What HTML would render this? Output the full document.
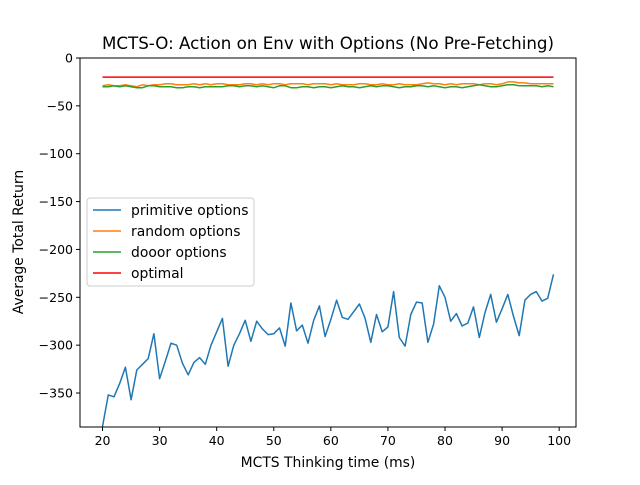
<!DOCTYPE html>
<html><head><meta charset="utf-8"><style>
body{margin:0;background:#fff;}
svg{font-family:"DejaVu Sans","Liberation Sans",sans-serif;}
</style></head><body>
<svg id="chart" width="640" height="480" xmlns="http://www.w3.org/2000/svg"></svg>
<script>
const xStart = 20;
const primitive = [-385,-352,-354,-340,-323,-357,-326,-320,-314,-288,-335,-317,-298,-300,-319,-331,-318,-313,-320,-300,-286,-272,-322,-300,-288,-274,-296,-275,-283,-289,-288,-282,-301,-256,-285,-279,-298,-274,-259,-291,-273,-253,-271,-273,-265,-257,-272,-297,-268,-286,-281,-244,-292,-301,-268,-255,-256,-297,-278,-238,-250,-275,-267,-280,-277,-260,-292,-266,-247,-276,-262,-247,-270,-290,-253,-247,-244,-254,-251,-226];
const randomOpt = [-29,-28,-29,-29,-28,-29,-30,-28,-29,-28,-28,-27,-27,-28,-28,-28,-27,-28,-27,-28,-27,-27,-28,-28,-28,-27,-27,-28,-27,-28,-27,-27,-28,-27,-27,-27,-28,-27,-27,-27,-28,-27,-28,-28,-28,-27,-27,-28,-28,-27,-28,-28,-27,-28,-28,-28,-27,-26,-27,-27,-28,-27,-28,-27,-27,-27,-28,-27,-27,-28,-27,-25,-25,-26,-26,-27,-27,-27,-27,-27];
const dooor = [-30,-30,-29,-30,-29,-30,-31,-31,-29,-29,-30,-30,-30,-31,-31,-30,-30,-31,-30,-30,-30,-30,-29,-29,-30,-29,-29,-30,-29,-30,-31,-29,-29,-31,-31,-30,-30,-31,-30,-30,-31,-30,-29,-30,-30,-31,-30,-29,-30,-29,-29,-30,-31,-30,-30,-29,-29,-30,-29,-30,-31,-30,-30,-31,-30,-29,-28,-29,-30,-30,-29,-28,-28,-29,-29,-29,-29,-30,-29,-30];
const optimal = [-20,-20];
const xTicks = [20,30,40,50,60,70,80,90,100];
const yTicks = [0,-50,-100,-150,-200,-250,-300,-350];
const svg = document.getElementById('chart');
const NS='http://www.w3.org/2000/svg';
const L=80,R=576,T=58,B=427, xmin=16.05,xmax=102.95, ymin=-385.5,ymax=0;
const xs=v=>L+(v-xmin)/(xmax-xmin)*(R-L);
const ys=v=>T+(ymax-v)/(ymax-ymin)*(B-T);
function mk(tag,attrs,txt){const e=document.createElementNS(NS,tag);for(const k in attrs)e.setAttribute(k,attrs[k]);if(txt!==undefined)e.textContent=txt;svg.appendChild(e);return e;}
const title=mk('text',{x:328,y:49,'text-anchor':'middle','font-size':16.7},'MCTS-O: Action on Env with Options (No Pre-Fetching)');


function series(arr,color,name,xs0){
  const pts=arr.map((v,i)=>xs(xs0?xs0[i]:xStart+i).toFixed(1)+','+ys(v).toFixed(1)).join(' ');
  const p=mk('polyline',{points:pts,fill:'none',stroke:color,'stroke-width':1.5,'stroke-linejoin':'round'});
  
  
}
series(optimal,'#ff0000','series-optimal',[20,99]);
series(randomOpt,'#ff7f0e','series-random-options');
series(dooor,'#2ca02c','series-dooor-options');
series(primitive,'#1f77b4','series-primitive-options');
const frame=mk('rect',{x:L,y:T,width:R-L,height:B-T,fill:'none',stroke:'#000','stroke-width':1});


xTicks.forEach(t=>{const x=xs(t);mk('line',{x1:x,x2:x,y1:B,y2:B+4,stroke:'#000'});
  const tx=mk('text',{x:x,y:B+18,'text-anchor':'middle','font-size':12.5},t);
  
  });
yTicks.forEach(t=>{const y=ys(t);mk('line',{x1:L-4,x2:L,y1:y,y2:y,stroke:'#000'});
  const tx=mk('text',{x:L-7,y:y+4.5,'text-anchor':'end','font-size':12.5},t===0?'0':'\u2212'+Math.abs(t));
  
  });
const xl=mk('text',{x:328,y:467,'text-anchor':'middle','font-size':13.9},'MCTS Thinking time (ms)');


const yl=mk('text',{x:23,y:242,'text-anchor':'middle','font-size':13.9,transform:'rotate(-90 23 242)'},'Average Total Return');


const lg=mk('rect',{x:87,y:198,width:167,height:88,rx:3,fill:'#fff',stroke:'#ccc','fill-opacity':0.8});


[['primitive options','#1f77b4'],['random options','#ff7f0e'],['dooor options','#2ca02c'],['optimal','#ff0000']].forEach((e,i)=>{
  const y=210+i*21;
  mk('line',{x1:93,x2:121,y1:y,y2:y,stroke:e[1],'stroke-width':1.5});
  const t=mk('text',{x:131,y:y+5,'font-size':13.9},e[0]);
  
  
});
</script>
</body></html>
